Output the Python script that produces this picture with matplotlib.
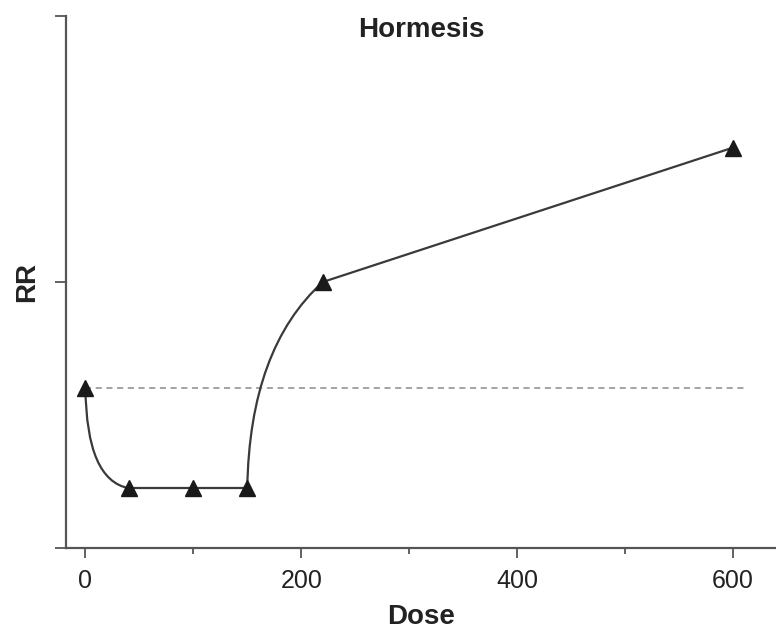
import matplotlib
matplotlib.use("Agg")
import matplotlib.pyplot as plt
from matplotlib.path import Path
from matplotlib.patches import PathPatch

plt.rcParams['font.family'] = ['Liberation Sans', 'DejaVu Sans']

dose = [0, 40, 100, 150, 220, 600]
rr = [0.6, 0.225, 0.225, 0.225, 1.0, 1.505]
baseline = 0.6
baseline_end = 611
xticks = [0, 200, 400, 600]
xminor = [100, 300, 500]
yticks = [0, 1, 2]

fig = plt.figure(figsize=(7.76, 6.29), dpi=100)
ax = fig.add_axes([66/776, (629-548)/629, 1 - 66/776, (548-16)/629])

lc = '#3a3a3a'
# curved segment 0 -> 40
p0 = (dose[0], rr[0]); p1 = (dose[1], rr[1])
verts = [p0, (dose[0] + 1, rr[1] + 0.03), p1]
ax.add_patch(PathPatch(Path(verts, [Path.MOVETO, Path.CURVE3, Path.CURVE3]),
                       fill=False, edgecolor=lc, lw=1.6, zorder=2))
# flat segment 40 -> 150
ax.plot(dose[1:4], rr[1:4], color=lc, lw=1.6, zorder=2)
# curved segment 150 -> 220
verts2 = [(dose[3], rr[3]), (dose[3] + 2, 0.75), (dose[4], rr[4])]
ax.add_patch(PathPatch(Path(verts2, [Path.MOVETO, Path.CURVE3, Path.CURVE3]),
                       fill=False, edgecolor=lc, lw=1.6, zorder=2))
# straight 220 -> 600
ax.plot(dose[4:6], rr[4:6], color=lc, lw=1.6, zorder=2)

ax.plot(dose, rr, linestyle='none', marker='^', markersize=11,
        color='#1a1a1a', zorder=3)

ax.plot([0, baseline_end], [baseline, baseline], color='#8a8a8a', lw=1.1,
        dashes=(4, 3), zorder=1)

ax.set_xlim(-18, 640)
ax.set_ylim(0, 2)
ax.set_xticks(xticks)
ax.set_xticks(xminor, minor=True)
ax.set_yticks(yticks)
ax.set_yticklabels([])
ax.tick_params(axis='x', which='major', length=7, width=1.3, color='#555555',
               labelsize=18, labelcolor='#222222', pad=8)
ax.tick_params(axis='x', which='minor', length=4, width=1.3, color='#555555')
ax.tick_params(axis='y', which='major', length=8, width=1.3, color='#555555')

for s in ['top', 'right']:
    ax.spines[s].set_visible(False)
for s in ['left', 'bottom']:
    ax.spines[s].set_color('#555555')
    ax.spines[s].set_linewidth(1.6)

ax.set_xlabel('Dose', fontsize=20, fontweight='bold', color='#222222', labelpad=8)
ax.set_ylabel('RR', fontsize=20, fontweight='bold', color='#222222', labelpad=7)
ax.text(0.5, 0.998, 'Hormesis', transform=ax.transAxes, ha='center', va='top',
        fontsize=20, fontweight='bold', color='#222222')

fig.savefig('out.png', dpi=100)
